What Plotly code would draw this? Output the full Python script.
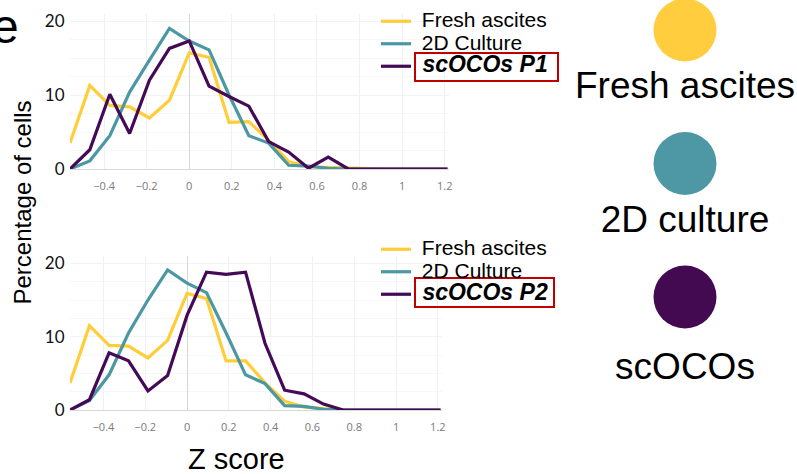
import plotly.graph_objects as go

W, H = 797, 474

# ---------------- data ----------------
z_bins = [-0.56, -0.467, -0.373, -0.28, -0.187, -0.093, 0.0, 0.093, 0.187, 0.28,
          0.373, 0.467, 0.56, 0.653, 0.747, 0.84, 0.933, 1.027, 1.12, 1.213]

fresh_p1 = [3.5, 11.3, 8.6, 8.4, 6.9, 9.3, 15.7, 15.1, 6.3, 6.4,
            3.9, 1.0, 0.3, 0.2, 0.1, 0, 0, 0, 0, 0]
culture_p1 = [0, 1.1, 4.5, 10.4, 14.7, 19.0, 17.3, 16.1, 10.0, 4.5,
              3.5, 0.5, 0.4, 0.1, 0, 0, 0, 0, 0, 0]
scoco_p1 = [0, 2.6, 10.1, 4.8, 12.0, 16.3, 17.3, 11.2, 9.8, 8.5,
            3.7, 2.3, 0.1, 1.6, 0, 0, 0, 0, 0, 0]

fresh_p2 = [3.7, 11.5, 8.8, 8.7, 7.1, 9.5, 15.9, 15.2, 6.7, 6.7,
            3.7, 1.2, 0.4, 0.2, 0, 0, 0, 0, 0, 0]
culture_p2 = [0, 1.3, 4.8, 10.5, 15.0, 19.1, 17.3, 16.0, 10.5, 4.8,
              3.6, 0.6, 0.5, 0.1, 0, 0, 0, 0, 0, 0]
scoco_p2 = [0, 1.4, 7.8, 6.7, 2.6, 4.7, 12.9, 18.8, 18.5, 18.8,
            9.1, 2.7, 2.2, 0.8, 0, 0, 0, 0, 0, 0]

x_ticks = [-0.4, -0.2, 0, 0.2, 0.4, 0.6, 0.8, 1, 1.2]
x_ticktext = ["\u22120.4", "\u22120.2", "0", "0.2", "0.4", "0.6", "0.8", "1", "1.2"]
y_ticks = [0, 10, 20]

series_names = ["Fresh ascites", "2D Culture"]
p_names = ["scOCOs P1", "scOCOs P2"]
group_labels = ["Fresh ascites", "2D culture", "scOCOs"]

C_YEL = "#FFCD38"
C_TEAL = "#4B97A3"
C_PUR = "#440A57"
colors = [C_YEL, C_TEAL, C_PUR]
circle_colors = ["#FFCD3D", "#4E98A5", "#430A52"]

# ---------------- helpers ----------------
def px(x):
    return x / W

def py(y):
    return 1 - y / H

def lname(t, bold=False):
    if bold:
        return "<b><i><span style='font-size:23px'>\u00a0" + t + "</span></i></b>"
    return "<span style='font-size:21px'>\u00a0" + t + "</span>"

fig = go.Figure()

panels = [
    (fresh_p1, culture_p1, scoco_p1, p_names[0], "x", "y", "legend"),
    (fresh_p2, culture_p2, scoco_p2, p_names[1], "x2", "y2", "legend2"),
]
for fr, cu, sc, pn, xa, ya, lg in panels:
    for vals, name, col, bold in [(fr, series_names[0], colors[0], False),
                                  (cu, series_names[1], colors[1], False),
                                  (sc, pn, colors[2], True)]:
        fig.add_trace(go.Scatter(
            x=z_bins, y=vals, mode="lines", name=lname(name, bold),
            line=dict(color=col, width=3.2), xaxis=xa, yaxis=ya, legend=lg,
            hoverinfo="skip"))

# circles legend on the right
rows = list(range(len(group_labels)))
fig.add_trace(go.Scatter(
    x=[0.5] * len(rows), y=rows, mode="markers",
    marker=dict(size=63, color=circle_colors, line=dict(width=0)),
    xaxis="x3", yaxis="y3", showlegend=False, hoverinfo="skip", cliponaxis=False))
label_offsets = [0.44, 0.445, 0.545]
fig.add_trace(go.Scatter(
    x=[0.5] * len(rows), y=[r + o for r, o in zip(rows, label_offsets)],
    mode="text", text=group_labels, textposition="middle center",
    textfont=dict(size=37, color="black", family="Liberation Sans, Arial"),
    xaxis="x3", yaxis="y3", showlegend=False, hoverinfo="skip", cliponaxis=False))

xcommon = dict(range=[-0.56, 1.22], tickvals=x_ticks, ticktext=x_ticktext,
               tickfont=dict(size=11, color="#7a7a7a", family="Open Sans"),
               showgrid=True, gridcolor="#f1f1f1", zeroline=True,
               zerolinecolor="#d6d6d6", zerolinewidth=1, showline=False,
               ticks="outside", ticklen=7, tickcolor="rgba(0,0,0,0)")
ycommon = dict(range=[0, 21], tickvals=y_ticks,
               tickfont=dict(size=17, color="#111", family="Lato"),
               showgrid=True, gridcolor="#f3f3f3", zeroline=True,
               zerolinecolor="#d9d9d9", zerolinewidth=1, showline=False,
               ticks="outside", ticklen=1, tickcolor="rgba(0,0,0,0)",
               minor=dict(dtick=2.5, showgrid=True, gridcolor="#f7f7f7"))

leg_common = dict(font=dict(size=15, color="black", family="Liberation Sans, Arial"),
                  bgcolor="rgba(0,0,0,0)", itemwidth=30, tracegroupgap=0,
                  xanchor="left", yanchor="top", itemclick=False)

fig.update_layout(
    width=W, height=H, margin=dict(l=0, r=0, t=0, b=0, autoexpand=False),
    paper_bgcolor="white", plot_bgcolor="white", showlegend=True,
    xaxis=dict(domain=[px(70), px(449)], anchor="y", **xcommon),
    yaxis=dict(domain=[py(169), py(13.6)], anchor="x", **ycommon),
    xaxis2=dict(domain=[px(70), px(442)], anchor="y2", **xcommon),
    yaxis2=dict(domain=[py(410), py(256)], anchor="x2", **ycommon),
    xaxis3=dict(domain=[px(600), px(770)], range=[0, 1], visible=False, anchor="y3"),
    yaxis3=dict(domain=[0, 1], range=[(H - 30) / 133.5, -30 / 133.5],
                visible=False, anchor="x3"),
    legend=dict(x=px(376), y=py(5), **leg_common),
    legend2=dict(x=px(376), y=py(233), **leg_common),
)

# red boxes around the organoid legend entries
for x0, x1, y0, y1 in [(415, 558, 53, 81), (415, 554, 278, 307)]:
    fig.add_shape(type="rect", xref="paper", yref="paper",
                  x0=px(x0), x1=px(x1), y0=py(y1), y1=py(y0),
                  line=dict(color="#C00000", width=2), fillcolor="rgba(0,0,0,0)")

# titles and panel letter
fig.add_annotation(text="Percentage of cells", textangle=-90, xref="paper", yref="paper",
                   x=px(21.5), y=py(203), xanchor="center", yanchor="middle",
                   showarrow=False,
                   font=dict(size=24, color="black", family="Liberation Sans, Arial"))
fig.add_annotation(text="Z score", xref="paper", yref="paper",
                   x=px(236.5), y=0, xanchor="center", yanchor="bottom", yshift=-3,
                   showarrow=False,
                   font=dict(size=29, color="black", family="Liberation Sans, Arial"))
fig.add_annotation(text="e", xref="paper", yref="paper", x=px(5), y=py(26),
                   showarrow=False, xanchor="center", yanchor="middle",
                   font=dict(size=48, color="black", family="Liberation Sans, Arial"))

fig.write_html("out.html", config={"displayModeBar": False},
               post_script="document.body.style.margin='0';document.body.style.padding='0';")
